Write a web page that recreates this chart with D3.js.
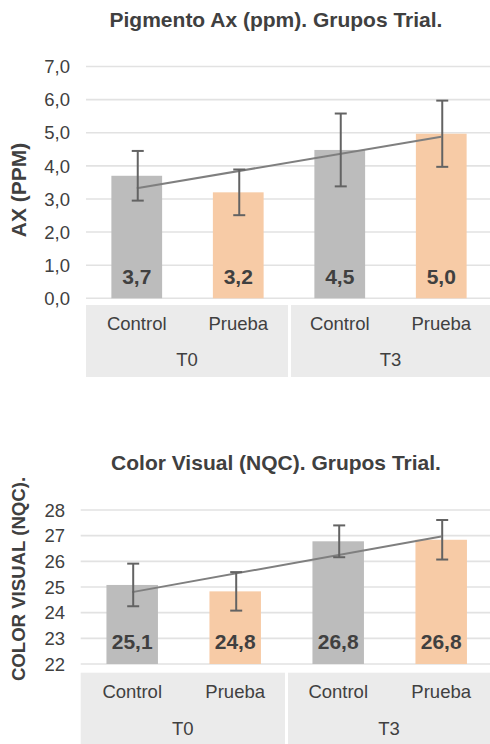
<!DOCTYPE html>
<html lang="es">
<head>
  <meta charset="UTF-8">
  <title>Pigmento Ax / Color Visual</title>
  <script src="https://d3js.org/d3.v7.min.js"></script>
  <style>
    html, body { margin: 0; padding: 0; background: #fff; overflow: hidden; }
    svg { font-family: "Liberation Sans", Arial, sans-serif; }
  </style>
</head>
<body>
<div id="chart"></div>
<script>
  // values
  const categories = ["Control", "Prueba", "Control", "Prueba"];
  const groups = ["T0", "T3"];

  const axValues = [3.7, 3.2, 4.48, 4.97];
  const axErrors = [0.75, 0.69, 1.1, 1.0];
  const axTrend = [3.32, 4.88];          // trendline at first and last bar
  const axTicks = [0, 1, 2, 3, 4, 5, 6, 7];

  const nqcValues = [25.08, 24.83, 26.78, 26.84];
  const nqcErrors = [0.83, 0.75, 0.62, 0.77];
  const nqcTrend = [24.8, 26.97];
  const nqcTicks = [22, 23, 24, 25, 26, 27, 28];

  const width = 490, height = 744;
  const textColor = "#404040";
  const barColors = { Control: "#bcbcbc", Prueba: "#f7cba6" };

  const svg = d3.select("#chart").append("svg")
    .attr("width", width)
    .attr("height", height);

  function drawChart(o) {
    const g = svg.append("g");
    const idx = d3.range(o.values.length);

    const x = d3.scaleBand().domain(idx).range([o.left, o.right])
      .paddingInner(0.5).paddingOuter(0.25);
    const y = d3.scaleLinear().domain(o.domain).range([o.bottom, o.top]);

    // title
    g.append("text")
      .attr("x", 276).attr("y", o.titleY)
      .attr("text-anchor", "middle")
      .attr("font-size", 21).attr("font-weight", "bold")
      .attr("fill", textColor)
      .text(o.title);

    // y axis title
    g.append("text")
      .attr("transform", `translate(18,${o.axisTitleY}) rotate(-90)`)
      .attr("text-anchor", "middle").attr("dy", "0.36em")
      .attr("font-size", o.axisTitleSize).attr("font-weight", "bold")
      .attr("fill", textColor)
      .text(o.axisTitle);

    // gridlines
    g.selectAll(".grid").data(o.ticks).enter().append("line")
      .attr("x1", o.left).attr("x2", width)
      .attr("y1", d => y(d)).attr("y2", d => y(d))
      .attr("stroke", "#e2e2e2").attr("stroke-width", 1.6);

    // tick labels
    g.selectAll(".tick").data(o.ticks).enter().append("text")
      .attr("x", o.tickX).attr("y", d => y(d))
      .attr("dy", "0.36em").attr("text-anchor", "end")
      .attr("font-size", 18.5).attr("fill", textColor)
      .text(o.tickFormat);

    // bars
    g.selectAll(".bar").data(o.values).enter().append("rect")
      .attr("x", (d, i) => x(i))
      .attr("width", x.bandwidth())
      .attr("y", d => y(d))
      .attr("height", d => o.bottom - y(d))
      .attr("fill", (d, i) => barColors[categories[i]]);

    // value labels
    g.selectAll(".val").data(o.values).enter().append("text")
      .attr("x", (d, i) => x(i) + x.bandwidth() / 2)
      .attr("y", o.labelY)
      .attr("text-anchor", "middle")
      .attr("font-size", 21).attr("font-weight", "bold")
      .attr("fill", textColor)
      .text(d => d.toFixed(1).replace(".", ","));

    // trendline
    const cx = i => x(i) + x.bandwidth() / 2;
    g.append("line")
      .attr("x1", cx(0)).attr("y1", y(o.trend[0]))
      .attr("x2", cx(idx.length - 1)).attr("y2", y(o.trend[1]))
      .attr("stroke", "#7f7f7f").attr("stroke-width", 2);

    // error bars
    const eb = g.selectAll(".err").data(o.values).enter().append("g")
      .attr("stroke", "#636363").attr("stroke-width", 2);
    eb.append("line")
      .attr("x1", (d, i) => cx(i) + 1).attr("x2", (d, i) => cx(i) + 1)
      .attr("y1", (d, i) => y(d + o.errors[i])).attr("y2", (d, i) => y(d - o.errors[i]));
    eb.append("line")
      .attr("x1", (d, i) => cx(i) - 5).attr("x2", (d, i) => cx(i) + 7)
      .attr("y1", (d, i) => y(d + o.errors[i])).attr("y2", (d, i) => y(d + o.errors[i]));
    eb.append("line")
      .attr("x1", (d, i) => cx(i) - 5).attr("x2", (d, i) => cx(i) + 7)
      .attr("y1", (d, i) => y(d - o.errors[i])).attr("y2", (d, i) => y(d - o.errors[i]));

    // category panels
    groups.forEach((grp, k) => {
      const x0 = k === 0 ? o.left : o.panelSplit + 3;
      const x1 = k === 0 ? o.panelSplit : width;
      g.append("rect")
        .attr("x", x0).attr("y", o.panelTop)
        .attr("width", x1 - x0).attr("height", o.panelBottom - o.panelTop)
        .attr("fill", "#ebebeb");
      g.append("text")
        .attr("x", (x0 + x1) / 2).attr("y", o.groupY)
        .attr("text-anchor", "middle").attr("dy", "0.36em")
        .attr("font-size", 18.5).attr("fill", textColor)
        .text(grp);
    });

    g.selectAll(".cat").data(categories).enter().append("text")
      .attr("x", (d, i) => cx(i)).attr("y", o.catY)
      .attr("text-anchor", "middle").attr("dy", "0.36em")
      .attr("font-size", 18.5).attr("fill", textColor)
      .text(d => d);
  }

  drawChart({
    title: "Pigmento Ax (ppm). Grupos Trial.", titleY: 27,
    axisTitle: "AX (PPM)", axisTitleY: 190, axisTitleSize: 21,
    values: axValues, errors: axErrors, trend: axTrend,
    ticks: axTicks, domain: [0, 7], tickFormat: d => d.toFixed(1).replace(".", ","),
    left: 86, right: 492, top: 66.5, bottom: 298.3, tickX: 70,
    labelY: 284, panelTop: 305, panelBottom: 377, panelSplit: 288,
    catY: 323, groupY: 359
  });

  drawChart({
    title: "Color Visual (NQC). Grupos Trial.", titleY: 470,
    axisTitle: "COLOR VISUAL (NQC).", axisTitleY: 579, axisTitleSize: 18.6,
    values: nqcValues, errors: nqcErrors, trend: nqcTrend,
    ticks: nqcTicks, domain: [22, 28], tickFormat: d => d,
    left: 80.7, right: 492.7, top: 510, bottom: 664, tickX: 65,
    labelY: 649, panelTop: 672.7, panelBottom: 744, panelSplit: 285,
    catY: 691.7, groupY: 728
  });
</script>
</body>
</html>
